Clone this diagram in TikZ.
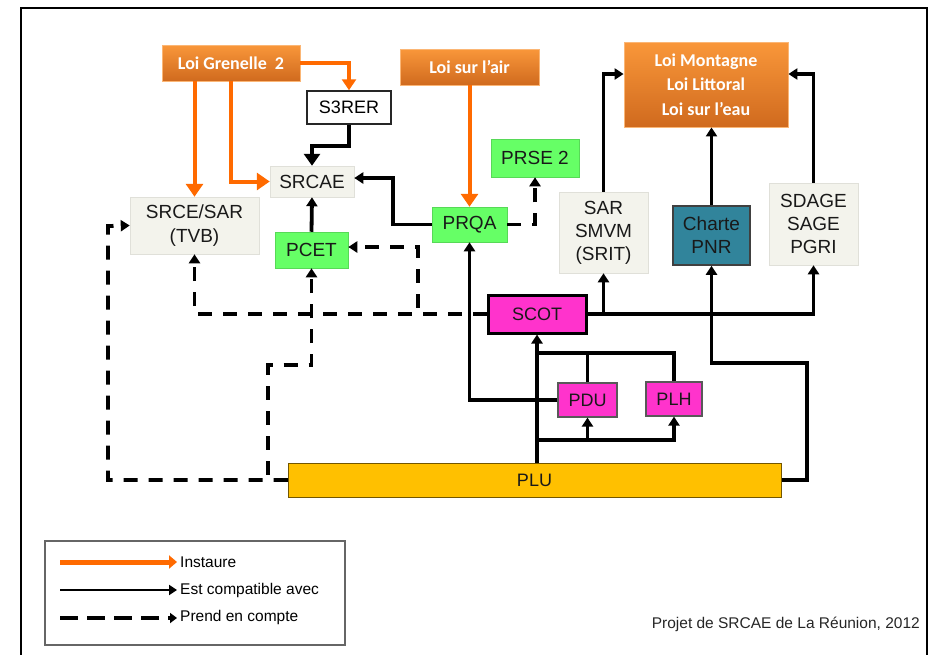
\documentclass[tikz,border=0pt]{standalone}
\usepackage{fontspec}
\setmainfont{Liberation Sans}
\newfontfamily\calib{Carlito}
\usetikzlibrary{arrows.meta,calc}
\definecolor{orgA}{HTML}{FF6A00}
\definecolor{boxtop}{HTML}{F9973A}
\definecolor{boxbot}{HTML}{D06A1E}
\definecolor{lightbox}{HTML}{F3F3EC}
\definecolor{grn}{HTML}{66FF66}
\definecolor{mag}{HTML}{FF33CC}
\definecolor{tealbox}{HTML}{31849B}
\definecolor{plucol}{HTML}{FFC000}
\tikzset{
  lawbox/.style={rectangle, top color=boxtop, bottom color=boxbot, draw=boxtop!70!white, line width=0.8pt,
    text=white, font=\calib\bfseries\fontsize{18}{24.5}\selectfont, align=center, inner sep=0pt},
  plainbox/.style={rectangle, fill=lightbox, draw=lightbox!92!black, line width=0.5pt,
    font=\fontsize{19}{23}\selectfont, align=center, inner sep=0pt, text=black!90},
  greenbox/.style={rectangle, fill=grn, draw=grn!85!black, line width=0.5pt,
    font=\fontsize{19}{23}\selectfont, inner sep=0pt, text=black!90},
  magbox/.style={rectangle, fill=mag, draw=black!65, line width=1.2pt,
    font=\fontsize{18}{22}\selectfont, inner sep=0pt, text=black!90},
  inst/.style={draw=orgA, line width=4pt, -{Triangle[length=13pt,width=17pt]}},
  comp/.style={draw=black, line width=3.8pt, -{Triangle[length=9pt,width=11pt]}},
  pec/.style={comp, dash pattern=on 14pt off 11pt},
  legtext/.style={anchor=west, inner sep=0pt, font=\fontsize{15.5}{17}\selectfont, text=black},
}
\begin{document}
\begin{tikzpicture}[x=1pt,y=-1pt]
\useasboundingbox (0,0) rectangle (932,654);
% outer frame
\draw[line width=2pt] (21,660) -- (21,8) -- (927,8) -- (927,660);

% nodes
\node[lawbox, minimum width=138pt, minimum height=36pt] (grenelle) at (231,63) {Loi Grenelle~~2};
\node[rectangle, draw=black!85, line width=1.5pt, fill=white, minimum width=84pt, minimum height=33pt,
      inner sep=0pt, font=\fontsize{18}{22}\selectfont] (s3rer) at (349,107.5) {S3RER};
\node[lawbox, minimum width=139pt, minimum height=36pt] (airlaw) at (469.5,67) {Loi sur l’air};
\node[lawbox, minimum width=164pt, minimum height=85pt] (montagne) at (706,84.5) {Loi Montagne\\Loi Littoral\\Loi sur l’eau};
\node[plainbox, minimum width=84pt, minimum height=31pt] (srcae) at (312,181.5) {SRCAE};
\node[plainbox, minimum width=129pt, minimum height=57pt, font=\fontsize{19}{24}\selectfont] (srce) at (194.5,225.5) {SRCE/SAR\\(TVB)};
\node[greenbox, minimum width=73pt, minimum height=36pt] (pcet) at (311.5,250) {PCET};
\node[greenbox, minimum width=75pt, minimum height=35pt] (prqa) at (469.5,224.5) {PRQA};
\node[greenbox, minimum width=88pt, minimum height=38pt] (prse) at (535,158) {PRSE 2};
\node[plainbox, minimum width=89pt, minimum height=81pt] (sar) at (603.5,232.5) {SAR\\SMVM\\(SRIT)};
\node[rectangle, fill=tealbox, draw=black!75, line width=1.5pt, minimum width=77pt, minimum height=59pt,
      inner sep=0pt, align=center, font=\fontsize{19}{23}\selectfont, text=black!90] (charte) at (711.5,235.5) {Charte\\PNR};
\node[plainbox, minimum width=89pt, minimum height=82pt] (sdage) at (813.5,224) {SDAGE\\SAGE\\PGRI};
\node[magbox, draw=black, line width=3pt, minimum width=98pt, minimum height=38pt] (scot) at (537,314) {SCOT};
\node[magbox, minimum width=59pt, minimum height=34pt] (pdu) at (587.5,400) {PDU};
\node[magbox, minimum width=56pt, minimum height=34pt] (plh) at (674,399) {PLH};
\node[rectangle, fill=plucol, draw=black!55!plucol, line width=1pt, minimum width=493pt, minimum height=34pt,
      inner sep=0pt, font=\fontsize{18}{22}\selectfont, text=black!90] (plu) at (534.5,480) {PLU};

% helper coordinates
\coordinate (k1) at (312,146);
\coordinate (k2) at (393,178);
\coordinate (k3) at (537,353);
\coordinate (k4) at (537,440);
\coordinate (k5) at (807,363);
\coordinate (k6) at (418,247);
\coordinate (k7) at (268,365);
\coordinate (k8) at (108,226);

% instaure (orange)
\draw[inst, -{Triangle[length=11pt,width=14pt]}] (grenelle.east) -| (s3rer.north);
\draw[inst] (srce.north |- grenelle.south) -- (srce.north);
\draw[inst] (grenelle.south) |- (srcae.west);
\draw[inst] (airlaw.south) -- (prqa.north);

% est compatible avec (black solid)
\draw[comp, -{Triangle[length=12pt,width=16pt]}] (s3rer.south) |- (k1) -- (srcae.north);
\draw[comp] (pcet.north) -- (srcae.south);
\draw[comp] (prqa.west) -| (k2) -- (k2 -| srcae.east);
\draw[comp] (pdu.west) -| (prqa.south);
\draw[comp] (scot.south |- plu.north) -- (scot.south);
\draw[line width=3.8pt] (pdu.north) |- (k3);
\draw[line width=3.8pt] (plh.north) |- (k3);
\draw[comp] (k4) -| (pdu.south);
\draw[comp] (k4) -| (plh.south);
\draw[comp] (plu.east) -| (k5) -| (charte.south);
\draw[comp] (scot.east) -| (sdage.south);
\draw[comp] (scot.east) -| (sar.south);
\draw[comp] (sar.north) |- ([yshift=10.5pt]montagne.west);
\draw[comp] (sdage.north) |- ([yshift=10.5pt]montagne.east);
\draw[comp] (charte.north) -- (charte.north |- montagne.south);

% prend en compte (dashed)
\draw[pec] (prqa.east) -| (prse.south);
\draw[pec] (scot.west) -| (srce.south);
\draw[pec] (scot.west) -| (k6) -- (k6 -| pcet.east);
\draw[pec] (plu.west) -| (k7) -| (pcet.south);
\draw[pec] (plu.west) -| (k8) -- (srce.west);

% legend
\node[rectangle, draw=black!60, line width=1.5pt, fill=white, minimum width=300pt, minimum height=104pt,
      inner sep=0pt] (legend) at (195,593) {};
\node[legtext] (t1) at (180,562) {Instaure};
\node[legtext] (t2) at (180,590) {Est compatible avec};
\node[legtext] (t3) at (180,617) {Prend en compte};
\coordinate (l1) at (60,562);
\coordinate (l2) at (60,590);
\coordinate (l3) at (60,618);
\draw[draw=orgA, line width=5pt, -{Triangle[length=8pt,width=13pt]}, shorten >=3pt] (l1) -- (l1 -| t1.west);
\draw[line width=2.5pt, -{Triangle[length=8pt,width=10pt]}, shorten >=3pt] (l2) -- (l2 -| t2.west);
\draw[line width=4pt, dash pattern=on 18pt off 9pt, -{Triangle[length=7pt,width=10pt]}, shorten >=3pt] (l3) -- (l3 -| t3.west);

% credit
\node[anchor=east, inner sep=0pt, font=\fontsize{15.5}{18}\selectfont, text=black!85] (credit) at (920,624) {Projet de SRCAE de La Réunion, 2012};
\end{tikzpicture}
\end{document}
